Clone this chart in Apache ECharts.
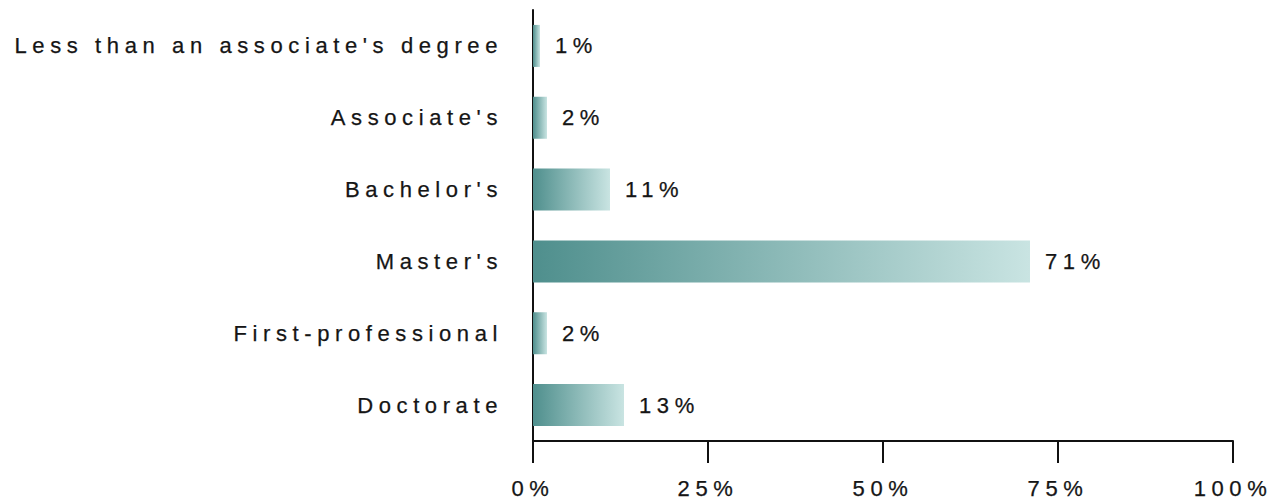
<!DOCTYPE html>
<html><head><meta charset="utf-8">
<script src="https://cdn.jsdelivr.net/npm/echarts@6/dist/echarts.min.js"></script>
<style>
html,body{margin:0;padding:0;background:#fff;}
#c{width:1275px;height:501px;}
#c svg text{letter-spacing:5.6px;}
</style></head>
<body><div id="c"></div>
<script>
const categories = ["Less than an associate's degree", "Associate's", "Bachelor's", "Master's", "First-professional", "Doctorate"];
const values = [1, 2, 11, 71, 2, 13];
const xTicks = [0, 25, 50, 75, 100];

const textCommon = {color: '#151515', fontSize: 22, fontFamily: 'Liberation Sans', textBorderColor: '#151515', textBorderWidth: 0.25};

const chart = echarts.init(document.getElementById('c'), null, {renderer: 'svg'});
chart.setOption({
  animation: false,
  grid: {left: 533, right: 42, top: 10, bottom: 60, containLabel: false},
  xAxis: {
    type: 'value', min: xTicks[0], max: xTicks[xTicks.length - 1], interval: 25,
    axisLine: {show: true, lineStyle: {color: '#111', width: 2}},
    axisTick: {show: true, length: 22, lineStyle: {color: '#111', width: 2}},
    splitLine: {show: false},
    axisLabel: Object.assign({formatter: '{value}%', margin: 36}, textCommon)
  },
  yAxis: {
    type: 'category', data: categories, inverse: true,
    axisLine: {show: true, lineStyle: {color: '#111', width: 2}},
    axisTick: {show: false},
    axisLabel: Object.assign({margin: 30}, textCommon)
  },
  series: [{
    type: 'bar', data: values, barWidth: 42,
    itemStyle: {
      color: new echarts.graphic.LinearGradient(0, 0, 1, 0, [
        {offset: 0, color: '#4f8f8d'},
        {offset: 1, color: '#c9e4e2'}
      ])
    },
    label: Object.assign({show: true, position: 'right', distance: 15, formatter: '{c}%'}, textCommon)
  }]
});
</script></body></html>
